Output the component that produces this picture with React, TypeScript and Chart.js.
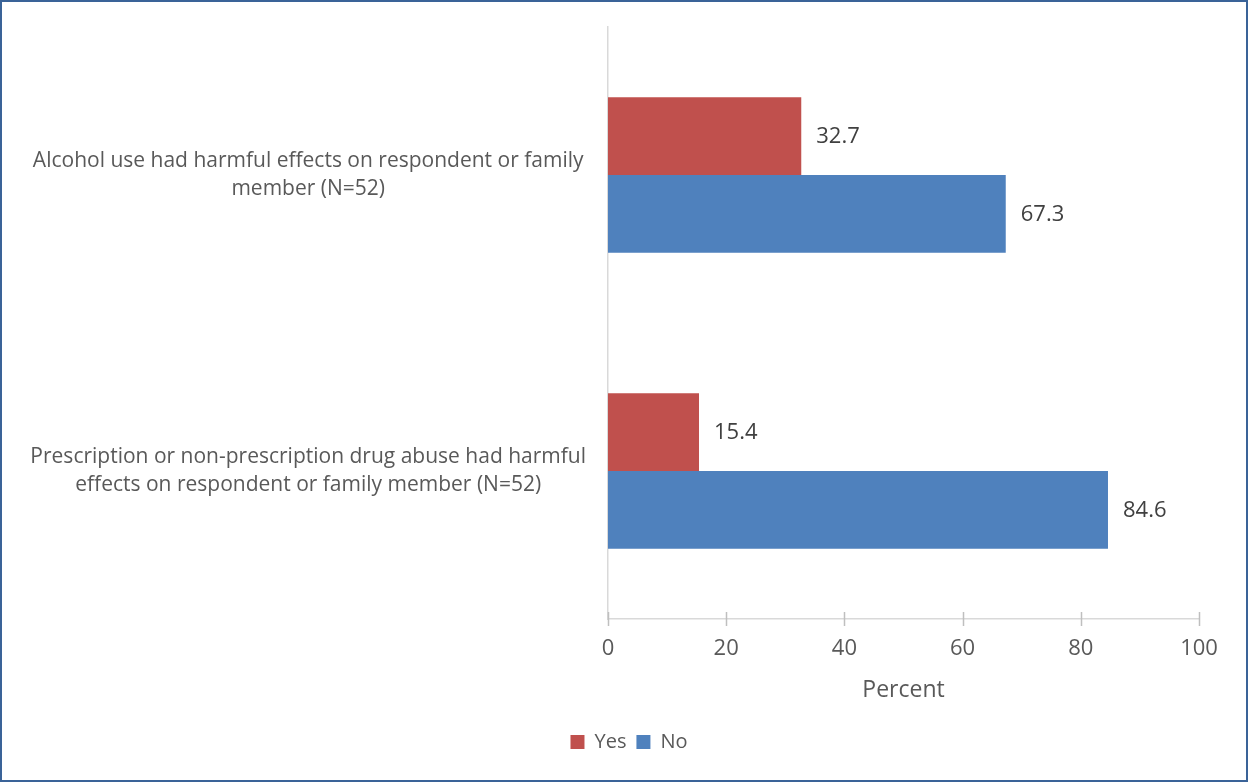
import React, { useEffect, useRef } from "react";
import { Chart, registerables } from "chart.js";

Chart.register(...registerables);

const categories: string[][] = [
  ["Alcohol use had harmful effects on respondent or family", "member (N=52)"],
  ["Prescription or non-prescription drug abuse had harmful", "effects on respondent or family member (N=52)"],
];
const yesValues = [32.7, 15.4];
const noValues = [67.3, 84.6];
const xTicks = [0, 20, 40, 60, 80, 100];
const axisTitle = "Percent";
const seriesNames = ["Yes", "No"];

const FONT = "'Open Sans', sans-serif";

export default function App() {
  const ref = useRef<HTMLCanvasElement | null>(null);

  useEffect(() => {
    document.body.style.margin = "0";
    const canvas = ref.current!;
    const valueLabels = {
      id: "valueLabels",
      afterDatasetsDraw(chart: any) {
        const ctx = chart.ctx;
        ctx.save();
        ctx.font = `22px ${FONT}`;
        ctx.fillStyle = "#404040";
        ctx.textAlign = "left";
        ctx.textBaseline = "middle";
        chart.data.datasets.forEach((ds: any, di: number) => {
          const meta = chart.getDatasetMeta(di);
          meta.data.forEach((bar: any, i: number) => {
            ctx.fillText(ds.data[i].toFixed(1), bar.x + 15, bar.y + 1);
          });
        });
        ctx.restore();
      },
    };
    const crossTicks = {
      id: "crossTicks",
      afterDraw(chart: any) {
        const ctx = chart.ctx;
        const sx = chart.scales.x;
        const y0 = chart.chartArea.bottom;
        ctx.save();
        ctx.strokeStyle = "#BFBFBF";
        ctx.lineWidth = 1.5;
        xTicks.forEach((v) => {
          const x = Math.round(sx.getPixelForValue(v)) + 0.5;
          ctx.beginPath();
          ctx.moveTo(x, y0 - 7);
          ctx.lineTo(x, y0 + 7);
          ctx.stroke();
        });
        ctx.restore();
      },
    };
    const chart = new Chart(canvas, {
      type: "bar",
      data: {
        labels: categories,
        datasets: [
          {
            label: seriesNames[0],
            data: yesValues,
            backgroundColor: "#C0504D",
            categoryPercentage: 0.525,
            barPercentage: 1,
          },
          {
            label: seriesNames[1],
            data: noValues,
            backgroundColor: "#4F81BD",
            categoryPercentage: 0.525,
            barPercentage: 1,
          },
        ],
      },
      options: {
        indexAxis: "y",
        animation: false,
        responsive: false,
        layout: { padding: { top: 27, left: 59, right: 49, bottom: 20 } },
        scales: {
          x: {
            min: 0,
            max: 100,
            afterBuildTicks(scale: any) {
              scale.ticks = xTicks.map((v) => ({ value: v }));
            },
            afterFit(scale: any) {
              scale.height = 103;
              scale.paddingLeft = 0;
              scale.paddingRight = 0;
            },
            grid: { display: false, drawTicks: false },
            border: { display: true, color: "#D9D9D9", width: 1.5 },
            ticks: { color: "#595959", font: { family: FONT, size: 22 }, padding: 17 },
            title: {
              display: true,
              text: axisTitle,
              color: "#595959",
              font: { family: FONT, size: 23 },
              padding: { top: 0, bottom: 18 },
            },
          },
          y: {
            afterFit(scale: any) {
              scale.width = 549;
              scale.paddingTop = 0;
              scale.paddingBottom = 0;
              scale._computeLabelArea = () => undefined;
            },
            grid: { display: false, drawTicks: false },
            border: { display: true, color: "#D9D9D9", width: 1.5 },
            ticks: {
              color: "#595959",
              font: { family: FONT, size: 21, lineHeight: 1.35 },
              crossAlign: "center",
              padding: 22,
            },
          },
        },
        plugins: {
          legend: {
            position: "bottom",
            labels: {
              boxWidth: 14,
              boxHeight: 14,
              padding: 10,
              color: "#595959",
              font: { family: FONT, size: 20 },
            },
          },
          tooltip: { enabled: false },
        },
      },
      plugins: [valueLabels, crossTicks],
    });
    return () => chart.destroy();
  }, []);

  return (
    <div style={{ position: "fixed", left: 0, top: 0, width: 1248, height: 782, background: "#fff" }}>
      <canvas ref={ref} width={1248} height={782} style={{ position: "absolute", left: 0, top: 0 }} />
      <div
        style={{
          position: "absolute",
          left: 0,
          top: 0,
          width: 1248,
          height: 782,
          boxSizing: "border-box",
          border: "2.5px solid #3A6398",
          pointerEvents: "none",
        }}
      />
    </div>
  );
}
